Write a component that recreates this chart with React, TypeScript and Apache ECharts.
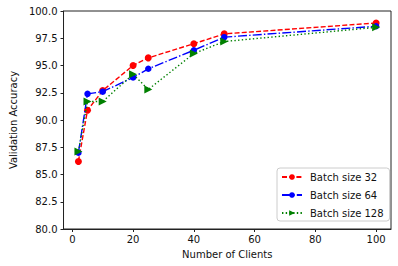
import React, { useEffect, useRef } from "react";
import * as echarts from "echarts";

const clients = [2, 5, 10, 20, 25, 40, 50, 100];
const batch32 = [86.2, 90.9, 92.7, 95.0, 95.7, 97.0, 97.9, 98.9];
const batch64 = [87.0, 92.4, 92.6, 93.9, 94.7, 96.4, 97.6, 98.6];
const batch128 = [87.1, 91.7, 91.7, 94.2, 92.8, 96.1, 97.2, 98.5];
const xTicks = [0, 20, 40, 60, 80, 100];

const FONT = "DejaVu Sans";
const FS = 10;

export default function App() {
  const ref = useRef<HTMLDivElement>(null);
  useEffect(() => {
    if (!ref.current) return;
    const chart = echarts.init(ref.current, undefined, { renderer: "svg" });
    const mk = (arr: number[]) => clients.map((c, i) => [c, arr[i]]);
    chart.setOption({
      animation: false,
      textStyle: { fontFamily: FONT },
      grid: {
        left: 57,
        right: 7,
        top: 11,
        bottom: 37,
        show: true,
        borderColor: "#222",
        borderWidth: 1,
        backgroundColor: "transparent",
      },
      xAxis: {
        type: "value",
        min: -2.9,
        max: 104.9,
        name: "Number of Clients",
        nameLocation: "middle",
        nameGap: 20,
        nameTextStyle: { fontFamily: FONT, fontSize: FS, color: "#111" },
        axisLine: { show: true, onZero: false, lineStyle: { color: "#222", width: 1 } },
        axisTick: { show: true, length: 3, customValues: xTicks, lineStyle: { color: "#222" } },
        axisLabel: { customValues: xTicks, margin: 5, fontFamily: FONT, fontSize: FS, color: "#111" },
        splitLine: { show: false },
      },
      yAxis: {
        type: "value",
        min: 80,
        max: 100,
        interval: 2.5,
        name: "Validation Accuracy",
        nameLocation: "middle",
        nameGap: 41,
        nameTextStyle: { fontFamily: FONT, fontSize: FS, color: "#111" },
        axisLine: { show: true, onZero: false, lineStyle: { color: "#222", width: 1 } },
        axisTick: { show: true, length: 3, lineStyle: { color: "#222" } },
        axisLabel: {
          margin: 6,
          fontFamily: FONT,
          fontSize: FS,
          color: "#111",
          formatter: (v: number) => v.toFixed(1),
        },
        splitLine: { show: false },
      },
      legend: {
        orient: "vertical",
        left: 277,
        top: 168,
        padding: [4, 6, 3, 4],
        itemWidth: 20,
        itemHeight: 7,
        itemGap: 8,
        backgroundColor: "#fff",
        borderColor: "#ccc",
        borderWidth: 1,
        borderRadius: 3,
        textStyle: { fontFamily: FONT, fontSize: FS, color: "#111", padding: [0, 0, 0, 3] },
        data: ["Batch size 32", "Batch size 64", "Batch size 128"],
      },
      series: [
        {
          name: "Batch size 32",
          type: "line",
          data: mk(batch32),
          symbol: "circle",
          symbolSize: 7,
          lineStyle: { color: "#ff0000", width: 1.4, type: [5, 2.2] },
          itemStyle: { color: "#ff0000" },
          z: 3,
        },
        {
          name: "Batch size 64",
          type: "line",
          data: mk(batch64),
          symbol: "circle",
          symbolSize: 6.5,
          lineStyle: { color: "#0000ff", width: 1.4, type: [9, 2.2, 1.4, 2.2] },
          itemStyle: { color: "#0000ff" },
          z: 4,
        },
        {
          name: "Batch size 128",
          type: "line",
          data: mk(batch128),
          symbol: "triangle",
          symbolRotate: -90,
          symbolSize: 8,
          lineStyle: { color: "#008000", width: 1.4, type: [1.4, 2.3] },
          itemStyle: { color: "#008000" },
          z: 5,
        },
      ],
    });
    return () => chart.dispose();
  }, []);
  return <div ref={ref} style={{ width: 398, height: 266, position: "absolute", left: 0, top: 0 }} />;
}
